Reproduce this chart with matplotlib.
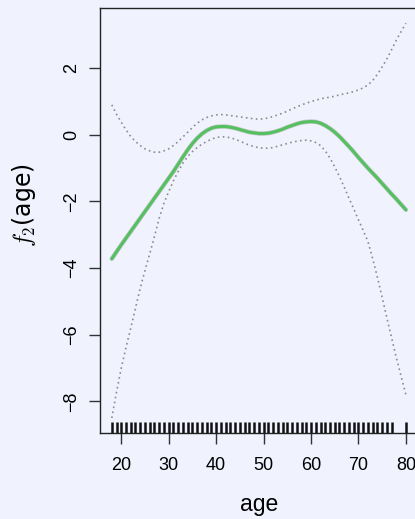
""" Partial effect of age (GAM smooth) with pointwise bands. """

import matplotlib
matplotlib.use("Agg")
import matplotlib.pyplot as plt

AGES = list(range(18, 81))
FIT = [-3.72, -3.51, -3.30, -3.10, -2.90, -2.70, -2.50, -2.30, -2.10, -1.90,
       -1.70, -1.50, -1.30, -1.10, -0.88, -0.66, -0.45, -0.26, -0.10, 0.03,
       0.13, 0.20, 0.24, 0.25, 0.25, 0.23, 0.20, 0.16, 0.12, 0.08,
       0.06, 0.04, 0.04, 0.05, 0.08, 0.12, 0.17, 0.23, 0.28, 0.33,
       0.37, 0.39, 0.40, 0.39, 0.35, 0.28, 0.19, 0.08, -0.05, -0.20,
       -0.35, -0.51, -0.68, -0.84, -1.00, -1.15, -1.30, -1.46, -1.62, -1.78,
       -1.93, -2.09, -2.25]
UPPER = [0.90, 0.62, 0.38, 0.15, -0.05, -0.20, -0.32, -0.42, -0.48, -0.52,
         -0.52, -0.48, -0.42, -0.32, -0.20, -0.06, 0.08, 0.22, 0.35, 0.45,
         0.52, 0.57, 0.60, 0.61, 0.60, 0.58, 0.56, 0.54, 0.52, 0.50,
         0.48, 0.47, 0.48, 0.51, 0.55, 0.60, 0.65, 0.71, 0.78, 0.84,
         0.90, 0.95, 1.00, 1.04, 1.08, 1.11, 1.13, 1.16, 1.20, 1.23,
         1.26, 1.30, 1.35, 1.41, 1.50, 1.63, 1.82, 2.04, 2.28, 2.56,
         2.85, 3.10, 3.35]
LOWER = [-8.50, -7.72, -7.00, -6.38, -5.80, -5.20, -4.60, -4.07, -3.57, -3.05,
         -2.50, -2.05, -1.70, -1.38, -1.10, -0.85, -0.65, -0.50, -0.38, -0.28,
         -0.20, -0.13, -0.08, -0.06, -0.06, -0.09, -0.13, -0.19, -0.25, -0.31,
         -0.35, -0.39, -0.40, -0.40, -0.38, -0.34, -0.30, -0.26, -0.22, -0.19,
         -0.17, -0.16, -0.18, -0.23, -0.32, -0.48, -0.70, -0.96, -1.25, -1.57,
         -1.90, -2.22, -2.55, -2.87, -3.20, -3.72, -4.28, -4.88, -5.50, -6.10,
         -6.70, -7.25, -7.80]
RUG = list(range(18, 78)) + [80]

XTICKS = [20, 30, 40, 50, 60, 70, 80]
YTICKS = [-8, -6, -4, -2, 0, 2]

BG = "#f0f3fe"

plt.rcParams["mathtext.fontset"] = "cm"

fig = plt.figure(figsize=(4.15, 5.19), dpi=100, facecolor=BG)
ax = fig.add_axes([0.241, 0.1657, 0.7654, 0.819], facecolor=BG)

ax.plot(AGES, UPPER, color="#8c8c8c", lw=1.2, ls=(0, (1, 2)))
ax.plot(AGES, LOWER, color="#8c8c8c", lw=1.2, ls=(0, (1, 2)))
ax.plot(AGES, FIT, color="#a0aaa2", lw=3.2, alpha=0.6, solid_capstyle="round")
ax.plot(AGES, FIT, color="#55c060", lw=2.2, solid_capstyle="round")

ax.vlines(RUG, 0, 0.025, transform=ax.get_xaxis_transform(),
          color="#111111", lw=1.8)

ax.set_xlim(15.52, 82.48)
ax.set_ylim(-8.95, 3.81)

ax.set_xticks(XTICKS)
ax.set_yticks(YTICKS)
ax.set_yticklabels([str(v).replace("-", "\u2212") for v in YTICKS],
                   rotation=90, va="center")
ax.tick_params(length=8, width=1.0, color="#333333", labelsize=13,
               labelfontfamily="Liberation Sans")
ax.tick_params(axis="x", pad=9)
ax.tick_params(axis="y", pad=6)

for s in ax.spines.values():
    s.set_color("#222222")
    s.set_linewidth(1.0)

ax.set_xlabel("age", fontsize=16.5, family="Liberation Sans")
ax.xaxis.set_label_coords(0.5, -0.14)
ax.set_ylabel(r"$f_2$(age)", fontsize=17, family="DejaVu Sans")
ax.yaxis.set_label_coords(-0.195, 0.535)

fig.savefig("out.png", dpi=100, facecolor=BG)
